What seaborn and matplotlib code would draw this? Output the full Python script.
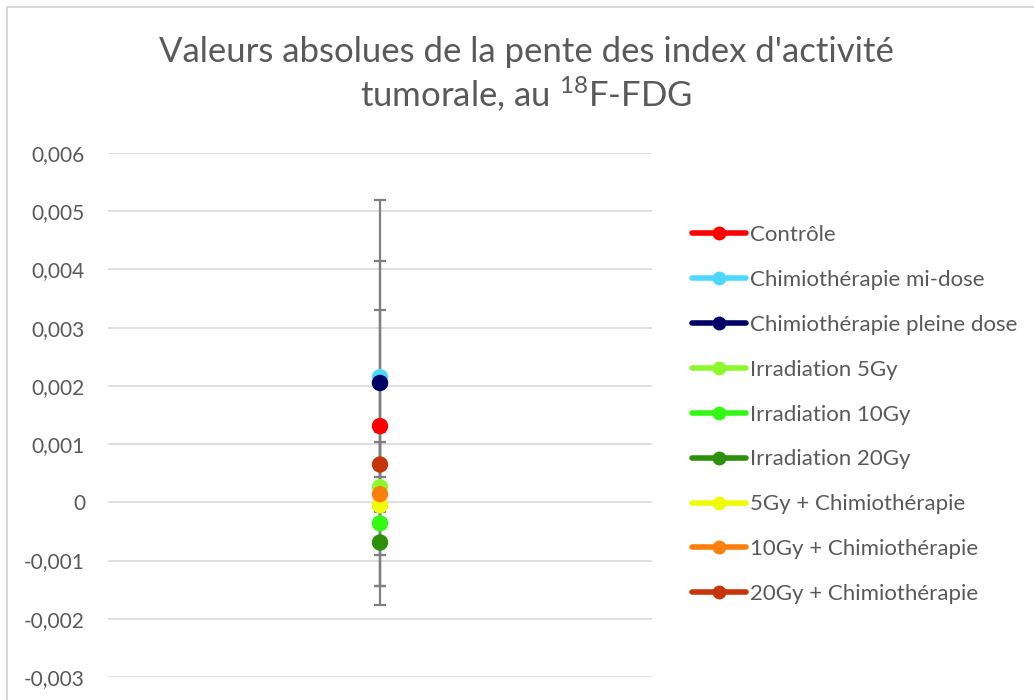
import matplotlib
matplotlib.use("Agg")
import matplotlib.pyplot as plt
from matplotlib.lines import Line2D
import seaborn as sns
import pandas as pd

# Series: treatment groups, mean slope and error bar half-width
groups = [
    "Contrôle",
    "Chimiothérapie mi-dose",
    "Chimiothérapie pleine dose",
    "Irradiation 5Gy",
    "Irradiation 10Gy",
    "Irradiation 20Gy",
    "5Gy + Chimiothérapie",
    "10Gy + Chimiothérapie",
    "20Gy + Chimiothérapie",
]
slopes = [0.00131, 0.00215, 0.00205, 0.00026, -0.00036, -0.00069, -0.00005, 0.00014, 0.00065]
errors = [0.00200, 0.00305, 0.00210, 0.00170, 0.00140, 0.00075, 0.00025, 0.00030, 0.00055]
colors = ["#ff0000", "#4fd8ff", "#000066", "#8ef82e", "#33fa14", "#2e8f0a",
          "#effc08", "#ff7f0c", "#c4360a"]
yticks = [-0.003, -0.002, -0.001, 0, 0.001, 0.002, 0.003, 0.004, 0.005, 0.006]

sns.set_theme(style="white")
plt.rcParams["font.family"] = ["Lato", "DejaVu Sans"]
plt.rcParams["mathtext.fontset"] = "custom"
plt.rcParams["mathtext.rm"] = "Lato"

text_color = "#595959"
grid_color = "#d9d9d9"

df = pd.DataFrame({"groupe": groups, "pente": slopes, "erreur": errors, "x": 0})

fig = plt.figure(figsize=(10.34, 7.0), dpi=100)
ax = fig.add_axes([108 / 1034, 23 / 700, 544 / 1034, 524 / 700])

# Error bars behind the markers
ax.errorbar(df["x"], df["pente"], yerr=df["erreur"], fmt="none",
            ecolor="#7f7f7f", elinewidth=1.6, capsize=4.5, capthick=1.6, zorder=2)

sns.scatterplot(data=df, x="x", y="pente", hue="groupe", palette=colors,
                hue_order=groups, s=140, linewidth=0, ax=ax, legend=False, zorder=3)

ax.set_xlim(-0.5, 0.5)
ax.set_ylim(-0.003, 0.006)
ax.set_yticks(yticks)
ax.set_yticklabels(["0" if v == 0 else f"{v:.3f}".replace(".", ",") for v in yticks],
                   color=text_color, fontsize=15)
ax.tick_params(axis="y", length=0, pad=16.5)
ax.set_xticks([])
ax.set_xlabel("")
ax.set_ylabel("")
for s in ax.spines.values():
    s.set_visible(False)
ax.yaxis.grid(True, color=grid_color, linewidth=1.2)
ax.set_axisbelow(True)
ax.set_facecolor("none")

fig.text(0.509, 0.926, "Valeurs absolues de la pente des index d'activité",
         ha="center", va="center", fontsize=25, color=text_color)
fig.text(0.509, 0.866, r"tumorale, au $\mathregular{^{18}}$F-FDG",
         ha="center", va="center", fontsize=25, color=text_color)

handles = [Line2D([0], [0], color=c, lw=4, marker="o", markersize=10,
                  markeredgewidth=0) for c in colors]
leg = fig.legend(handles, groups, loc="center left",
                 bbox_to_anchor=(692 / 1034, 1 - 414.5 / 700),
                 frameon=False, fontsize=16, handlelength=2.45, handletextpad=0.15,
                 labelspacing=1.12, borderpad=0, borderaxespad=0)
for t in leg.get_texts():
    t.set_color(text_color)

# Chart area border (top and left edges)
fig.add_artist(Line2D([7 / 1034, 7 / 1034], [0, 1 - 7 / 700], color=grid_color,
                      lw=1.5, transform=fig.transFigure))
fig.add_artist(Line2D([7 / 1034, 1], [1 - 7 / 700, 1 - 7 / 700], color=grid_color,
                      lw=1.5, transform=fig.transFigure))

fig.savefig("out.png", dpi=100)
